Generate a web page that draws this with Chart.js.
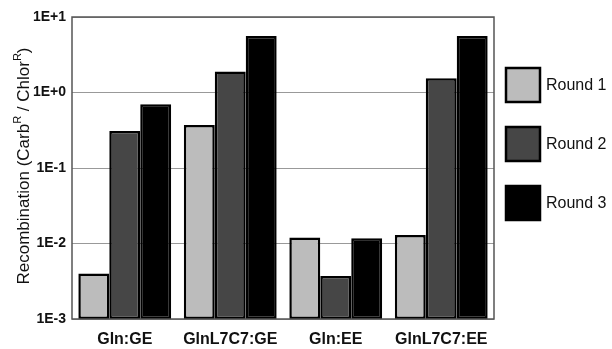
<!DOCTYPE html>
<html>
<head>
<meta charset="utf-8">
<script src="https://cdn.jsdelivr.net/npm/chart.js@4/dist/chart.umd.min.js"></script>
<style>
  html, body { margin: 0; padding: 0; background: #fff; }
  #wrap { width: 612px; height: 349px; }
</style>
</head>
<body>
<div id="wrap"><canvas id="myChart" width="612" height="349"></canvas></div>
<script>
// data

const categories = ['Gln:GE', 'GlnL7C7:GE', 'Gln:EE', 'GlnL7C7:EE'];
const seriesNames = ['Round 1', 'Round 2', 'Round 3'];
const round1 = [0.004, 0.37, 0.012, 0.013];
const round2 = [0.31, 1.9, 0.0037, 1.55];
const round3 = [0.7, 5.6, 0.0117, 5.6];
const yTicks = [0.001, 0.01, 0.1, 1, 10];
const yTickLabels = ['1E-3', '1E-2', '1E-1', '1E+0', '1E+1'];

const fillColors = ['#bcbcbc', '#464646', '#000000'];
const fontFamily = '"Liberation Sans", Arial, Helvetica, sans-serif';

// y title with superscripts
const yTitle = {
    id: 'yTitle',
    afterDraw(chart) {
        const ctx = chart.ctx;
        const parts = [
            ['Recombination (Carb', false], ['R', true], [' / Chlor', false], ['R', true], [')', false]
        ];
        const big = '17px ' + fontFamily;
        const small = '11px ' + fontFamily;
        let total = 0;
        parts.forEach(p => { ctx.font = p[1] ? small : big; total += ctx.measureText(p[0]).width; });
        ctx.save();
        ctx.translate(24, 166);
        ctx.rotate(-Math.PI / 2);
        ctx.fillStyle = '#111';
        ctx.textBaseline = 'middle';
        let x = -total / 2;
        parts.forEach(p => {
            ctx.font = p[1] ? small : big;
            ctx.fillText(p[0], x, p[1] ? -6 : 0);
            x += ctx.measureText(p[0]).width;
        });
        ctx.restore();
    }
};

// plot frame + legend
const frameAndLegend = {
    id: 'frameAndLegend',
    afterDraw(chart) {
        const ctx = chart.ctx;
        const a = chart.chartArea;
        ctx.save();
        ctx.strokeStyle = '#555';
        ctx.lineWidth = 1.5;
        ctx.strokeRect(a.left, a.top, a.right - a.left, a.bottom - a.top);

        chart.data.datasets.forEach((ds, i) => {
            const x = 506, y = 68 + i * 59;
            ctx.fillStyle = ds.backgroundColor;
            ctx.fillRect(x, y, 34, 34);
            ctx.strokeStyle = '#000';
            ctx.lineWidth = 2.5;
            ctx.strokeRect(x, y, 34, 34);
            ctx.fillStyle = '#111';
            ctx.font = '16px ' + fontFamily;
            ctx.textBaseline = 'middle';
            ctx.fillText(ds.label, 546, y + 18);
        });
        ctx.restore();
    }
};

new Chart(document.getElementById('myChart').getContext('2d'), {
    type: 'bar',
    data: {
        labels: categories,
        datasets: [round1, round2, round3].map((vals, i) => ({
            label: seriesNames[i],
            data: vals,
            backgroundColor: fillColors[i],
            borderColor: '#000',
            borderWidth: 2.5,
            borderSkipped: false,
            categoryPercentage: 0.88,
            barPercentage: 1
        }))
    },
    options: {
        responsive: false,
        animation: false,
        layout: { padding: { top: 17, right: 118, left: 0, bottom: 0 } },
        plugins: {
            legend: { display: false },
            tooltip: { enabled: false }
        },
        scales: {
            x: {
                grid: { display: false, drawTicks: false },
                border: { display: false },
                ticks: {
                    color: '#111',
                    padding: 11,
                    font: { family: fontFamily, size: 16, weight: 'bold' }
                },
                afterFit(scale) { scale.height = 30; }
            },
            y: {
                type: 'logarithmic',
                min: 0.001,
                max: 10,
                afterBuildTicks(scale) {
                    scale.ticks = yTicks.map(v => ({ value: v }));
                },
                grid: { color: '#999', lineWidth: 1, drawTicks: false },
                border: { display: false },
                ticks: {
                    color: '#111',
                    padding: 6,
                    autoSkip: false,
                    font: { family: fontFamily, size: 14, weight: 'bold' },
                    callback: (v) => {
                        const i = yTicks.indexOf(v);
                        return i >= 0 ? yTickLabels[i] : '';
                    }
                },
                afterFit(scale) { scale.width = 72; }
            }
        }
    },
    plugins: [yTitle, frameAndLegend]
});
</script>
</body>
</html>
